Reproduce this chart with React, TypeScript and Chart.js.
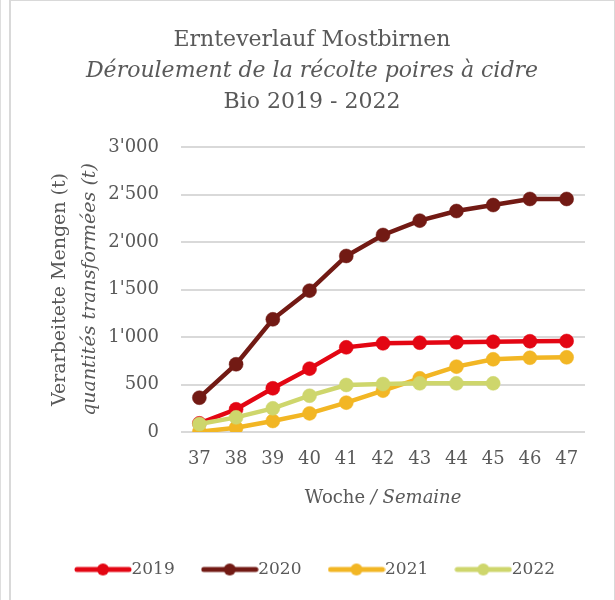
import React, { useEffect, useRef } from "react";
import { Chart, registerables } from "chart.js";

Chart.register(...registerables);

// ---- data ----
const weeks = ["37", "38", "39", "40", "41", "42", "43", "44", "45", "46", "47"];
const seriesNames = ["2019", "2020", "2021", "2022"];
const values2019 = [91, 239, 460, 667, 891, 933, 940, 945, 950, 955, 958];
const values2020 = [361, 713, 1186, 1488, 1853, 2074, 2225, 2326, 2389, 2453, 2453];
const values2021 = [3, 45, 116, 196, 309, 435, 565, 688, 765, 782, 786];
const values2022 = [84, 154, 249, 382, 495, 505, 512, 512, 512, null, null];
const seriesColors = ["#E30613", "#721A14", "#F2B624", "#CED66C"];
const yMin = 0;
const yMax = 3000;
const yStep = 500;
const titleLines = ["Ernteverlauf Mostbirnen", "Déroulement de la récolte poires à cidre", "Bio 2019 - 2022"];
const yTitleLines = ["Verarbeitete Mengen (t)", "quantités transformées (t)"];
const xTitleParts = ["Woche ", "/ Semaine"];

const FONT = "'DejaVu Serif', serif";
const TEXT = "#595959";

function formatThousands(v: number): string {
  const n = Math.round(v);
  if (n < 1000) return String(n);
  const th = Math.floor(n / 1000);
  const rest = String(n % 1000).padStart(3, "0");
  return `${th}'${rest}`;
}

function makeLegendImage(color: string): HTMLCanvasElement {
  const c = document.createElement("canvas");
  c.width = 58;
  c.height = 14;
  const g = c.getContext("2d")!;
  g.strokeStyle = color;
  g.lineWidth = 5;
  g.lineCap = "round";
  g.beginPath();
  g.moveTo(3, 7);
  g.lineTo(55, 7);
  g.stroke();
  g.fillStyle = color;
  g.beginPath();
  g.arc(29, 7, 6, 0, Math.PI * 2);
  g.fill();
  return c;
}

const textPlugin = {
  id: "mixedTexts",
  afterDraw(chart: any) {
    const ctx: CanvasRenderingContext2D = chart.ctx;
    const area = chart.chartArea;
    ctx.save();
    ctx.fillStyle = TEXT;
    ctx.textAlign = "center";
    ctx.textBaseline = "alphabetic";
    const cx = 312;
    ctx.font = `22px ${FONT}`;
    ctx.fillText(titleLines[0], cx, 46);
    ctx.font = `italic 22px ${FONT}`;
    ctx.fillText(titleLines[1], cx, 77);
    ctx.font = `22px ${FONT}`;
    ctx.fillText(titleLines[2], cx, 108);

    // y title
    const midY = (area.top + area.bottom) / 2;
    ctx.save();
    ctx.translate(60, midY);
    ctx.rotate(-Math.PI / 2);
    ctx.textBaseline = "middle";
    ctx.font = `19px ${FONT}`;
    ctx.fillText(yTitleLines[0], 0, 0);
    ctx.restore();
    ctx.save();
    ctx.translate(90, midY);
    ctx.rotate(-Math.PI / 2);
    ctx.textBaseline = "middle";
    ctx.font = `italic 19px ${FONT}`;
    ctx.fillText(yTitleLines[1], 0, 0);
    ctx.restore();

    // x title
    const midX = (area.left + area.right) / 2;
    ctx.textAlign = "left";
    ctx.textBaseline = "middle";
    ctx.font = `18px ${FONT}`;
    const w1 = ctx.measureText(xTitleParts[0]).width;
    ctx.font = `italic 18px ${FONT}`;
    const w2 = ctx.measureText(xTitleParts[1]).width;
    const start = midX - (w1 + w2) / 2;
    ctx.font = `18px ${FONT}`;
    ctx.fillText(xTitleParts[0], start, 498);
    ctx.font = `italic 18px ${FONT}`;
    ctx.fillText(xTitleParts[1], start + w1, 498);
    ctx.restore();
  },
};

export default function App() {
  const ref = useRef<HTMLCanvasElement | null>(null);

  useEffect(() => {
    if (!ref.current) return;
    const allValues = [values2019, values2020, values2021, values2022];
    const orders = [3, 4, 2, 1];
    const legendImages = seriesColors.map((c) => makeLegendImage(c));
    const chart = new Chart(ref.current, {
      type: "line",
      data: {
        labels: weeks,
        datasets: seriesNames.map((name, i) => ({
          label: name,
          data: allValues[i],
          borderColor: seriesColors[i],
          backgroundColor: seriesColors[i],
          pointBackgroundColor: seriesColors[i],
          pointBorderColor: seriesColors[i],
          borderWidth: 4.5,
          pointRadius: 7,
          pointBorderWidth: 0.5,
          tension: 0,
          spanGaps: false,
          order: orders[i],
          yAxisID: "y",
        })),
      },
      options: {
        responsive: false,
        animation: false,
        devicePixelRatio: 1,
        layout: { padding: { top: 147, right: 0, bottom: 12, left: 23 } },
        scales: {
          x: {
            type: "category",
            offset: true,
            grid: { display: false, drawTicks: false },
            border: { display: false },
            ticks: { color: TEXT, font: { family: FONT, size: 18 }, padding: 17, maxRotation: 0 },
            afterFit: (s: any) => {
              s.height = 94;
            },
          },
          y: {
            type: "linear",
            min: yMin,
            max: yMax,
            position: "left",
            grid: { color: "#d9d9d9", lineWidth: 2, drawTicks: false },
            border: { display: false },
            ticks: {
              stepSize: yStep,
              color: TEXT,
              font: { family: FONT, size: 18 },
              padding: 22,
              callback: (v: any) => formatThousands(Number(v)),
            },
            afterFit: (s: any) => {
              s.width = 158;
            },
          },
          yRight: {
            type: "linear",
            position: "right",
            display: true,
            grid: { display: false, drawTicks: false },
            border: { display: false },
            ticks: { display: false },
            afterFit: (s: any) => {
              s.width = 30;
            },
          },
        },
        plugins: {
          title: { display: false },
          tooltip: { enabled: false },
          legend: {
            display: true,
            position: "bottom",
            labels: {
              usePointStyle: true,
              pointStyleWidth: 40,
              boxHeight: 17,
              padding: 35,
              color: TEXT,
              font: { family: FONT, size: 17 },
              generateLabels: (ch: any) => {
                const items = (Chart.defaults.plugins.legend.labels as any).generateLabels(ch);
                return items
                  .sort((a: any, b: any) => a.datasetIndex - b.datasetIndex)
                  .map((it: any) => ({ ...it, pointStyle: legendImages[it.datasetIndex] }));
              },
            },
          },
        },
      },
      plugins: [textPlugin],
    } as any);
    return () => chart.destroy();
  }, []);

  return (
    <div style={{ position: "fixed", left: 0, top: 0, width: 615, height: 600, background: "#fff" }}>
      <div style={{ position: "absolute", left: 0, top: 0, width: 1, height: 600, background: "#dedede" }} />
      <div
        style={{
          position: "absolute",
          left: 9,
          top: 0,
          width: 603,
          height: 620,
          borderLeft: "2px solid #d9d9d9",
          borderTop: "1px solid #d9d9d9",
          borderRight: "1px solid #d9d9d9",
        }}
      />
      <canvas ref={ref} width={615} height={600} style={{ position: "absolute", left: 0, top: 0 }} />
    </div>
  );
}
